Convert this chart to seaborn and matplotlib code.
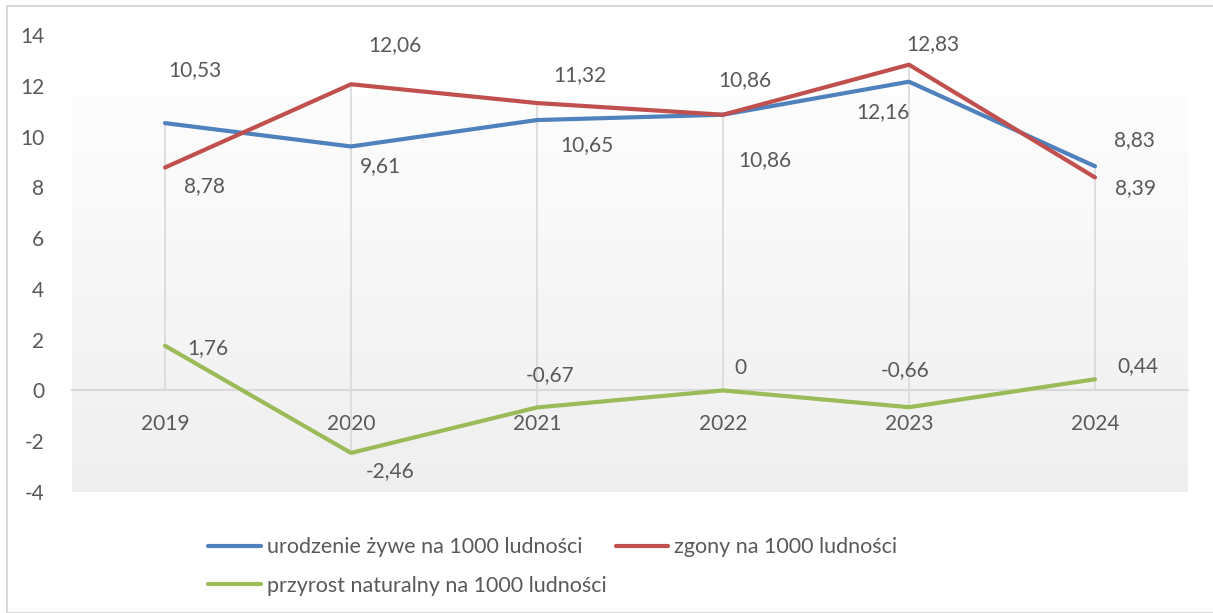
import numpy as np
import seaborn as sns
import matplotlib.pyplot as plt
import pandas as pd
from matplotlib.patches import Rectangle

years = ["2019", "2020", "2021", "2022", "2023", "2024"]
births = [10.53, 9.61, 10.65, 10.86, 12.16, 8.83]
deaths = [8.78, 12.06, 11.32, 10.86, 12.83, 8.39]
growth = [1.76, -2.46, -0.67, 0, -0.66, 0.44]
names = ["urodzenie żywe na 1000 ludności",
         "zgony na 1000 ludności",
         "przyrost naturalny na 1000 ludności"]
colors = ["#4F81BD", "#C0504D", "#9BBB59"]

# label offsets in pixels (dx, dy), dy positive = down as in the picture
label_offsets = [
    [(30, -53), (29, 20), (50, 25), (42, 45), (-26, 30), (39, -26)],
    [(39, 19), (44, -39), (43, -28), (22, -35), (24, -21), (40, 11)],
    [(43, 2), (39, 18), (13, -32), (17, -22), (-4, -37), (43, -13)],
]

df = pd.DataFrame({"rok": years * 3,
                   "wartosc": births + deaths + growth,
                   "seria": [names[0]] * 6 + [names[1]] * 6 + [names[2]] * 6})
df["x"] = np.tile(np.arange(len(years)), 3)

sns.set_theme(style="white")
plt.rcParams["font.family"] = ["Lato", "DejaVu Sans"]
plt.rcParams["axes.unicode_minus"] = False
txt = "#595959"
fs = 15

fig = plt.figure(figsize=(12.13, 6.13), dpi=100)
ax = fig.add_axes([72 / 1213, 1 - 492 / 613, (1188 - 72) / 1213, (492 - 35) / 613])

# chart border
fig.patches.append(Rectangle((7 / 1213, 0), 1.2, (613 - 6) / 613, transform=fig.transFigure,
                             fill=False, edgecolor="#d9d9d9", linewidth=1.5))

# gradient background of the plot area
grad = np.linspace(0, 1, 256).reshape(-1, 1)
top_c = np.array([0xfd, 0xfd, 0xfd]) / 255
bot_c = np.array([0xef, 0xef, 0xef]) / 255
img = top_c * (1 - grad[..., None]) + bot_c * grad[..., None]
img = img.reshape(256, 1, 3)
ax.imshow(img, extent=[0, 1, 0, (492 - 95) / (492 - 35)], transform=ax.transAxes,
          aspect="auto", zorder=0)

# drop lines
series = [births, deaths, growth]
for xi in range(len(years)):
    col = [s[xi] for s in series]
    ax.vlines(xi, min(0, min(col)), max(0, max(col)), color="#d9d9d9", linewidth=1.2, zorder=1)

sns.lineplot(data=df, x="x", y="wartosc", hue="seria", hue_order=names,
             palette=colors, linewidth=3, ax=ax, legend=False, zorder=3)

for s, vals in enumerate(series):
    for i, v in enumerate(vals):
        lab = "0" if v == 0 else f"{v:.2f}".replace(".", ",")
        dx, dy = label_offsets[s][i]
        ax.annotate(lab, (i, v), xytext=(dx, -dy), textcoords="offset pixels",
                    ha="center", va="center", fontsize=fs, color=txt, zorder=4)

ax.set_xlim(-0.5, len(years) - 0.5)
ax.set_ylim(-4, 14)
ax.set_yticks(np.arange(-4, 15, 2))
ax.set_xticks(range(len(years)))
ax.set_xticklabels(years)
ax.set_xlabel("")
ax.set_ylabel("")
ax.patch.set_alpha(0)
for sp in ["top", "right", "left"]:
    ax.spines[sp].set_visible(False)
ax.spines["bottom"].set_position(("data", 0))
ax.spines["bottom"].set_color("#d9d9d9")
ax.spines["bottom"].set_linewidth(1.5)
ax.spines["bottom"].set_zorder(2)
ax.tick_params(axis="x", length=0, pad=17, labelsize=fs, labelcolor=txt)
ax.tick_params(axis="y", length=0, pad=20, labelsize=fs, labelcolor=txt)

handles = [plt.Line2D([], [], color=colors[k], linewidth=3) for k in (0, 2, 1)]
labels = [names[k] for k in (0, 2, 1)]
fig.legend(handles, labels, loc="upper left", bbox_to_anchor=(189 / 1213, 1 - 518 / 613),
           ncol=2, frameon=False, fontsize=15.5, labelcolor=txt, handlelength=2.45,
           handletextpad=0.28, columnspacing=0.4, labelspacing=0.86)

fig.savefig("out.png", dpi=100)
